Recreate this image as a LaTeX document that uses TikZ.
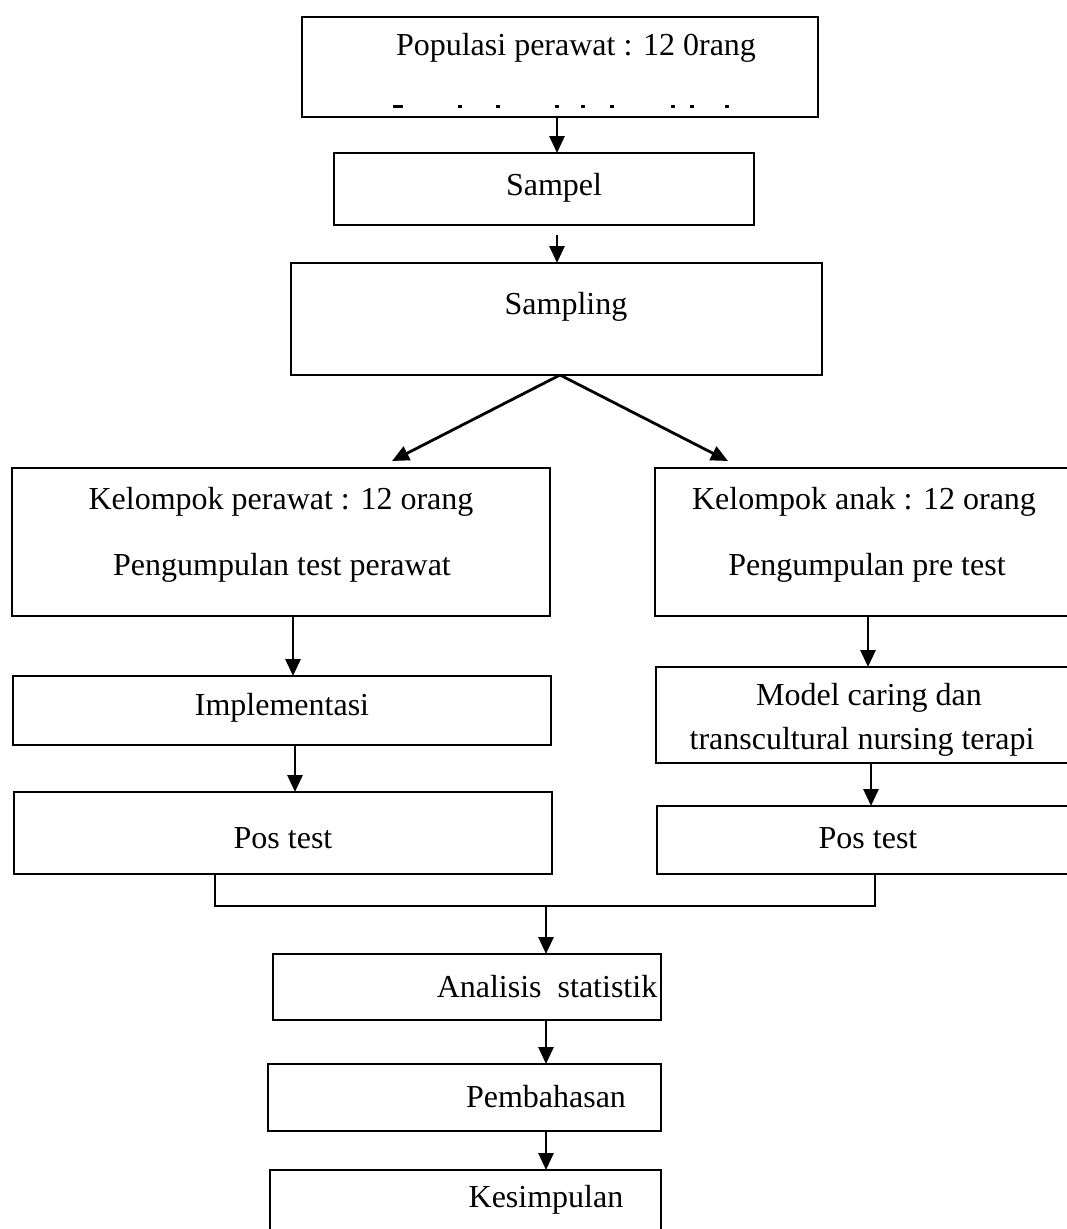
\documentclass[tikz,border=0pt]{standalone}
\usepackage{fontspec}
\setmainfont{Liberation Serif}
\usetikzlibrary{arrows.meta}
\begin{document}
\begin{tikzpicture}[x=1pt,y=-1pt,
  frame/.style={draw, line width=2.8pt, inner sep=0pt, outer sep=0pt, anchor=north west},
  txt/.style={font=\fontsize{32}{38}\selectfont, inner sep=0pt},
  flow/.style={line width=2.8pt, -{Triangle[length=17pt,width=15pt]}},
  mergeline/.style={line width=2.8pt}]
\useasboundingbox (0,0) rectangle (1067,1229);

% --- boxes ---
\node[frame, minimum width=516pt, minimum height=100pt] (pop) at (302,17) {};
\node[txt] (popT) at (576,48) {Populasi perawat : 12 0rang};
\fill (393,105) rectangle (403,108);
\foreach \d in {460,498,557,583,612,673,692,727}
  \fill (\d-2,105) rectangle (\d+2,108);

\node[frame, minimum width=420pt, minimum height=72pt] (sampel) at (334,153) {};
\node[txt] (sampelT) at (554,188) {Sampel};

\node[frame, minimum width=531pt, minimum height=112pt] (sampling) at (291,263) {};
\node[txt] (samplingT) at (566,307) {Sampling};

\node[frame, minimum width=538pt, minimum height=148pt] (kp) at (12,468) {};
\node[txt] (kpA) at (281,502) {Kelompok perawat : 12 orang};
\node[txt] (kpB) at (282,568) {Pengumpulan test perawat};

\node[frame, minimum width=460pt, minimum height=148pt] (ka) at (655,468) {};
\node[txt] (kaA) at (864,502) {Kelompok anak : 12 orang};
\node[txt] (kaB) at (867,568) {Pengumpulan pre test};

\node[frame, minimum width=538pt, minimum height=69pt] (impl) at (13,676) {};
\node[txt] (implT) at (282,708) {Implementasi};

\node[frame, minimum width=460pt, minimum height=96pt] (model) at (656,667) {};
\node[txt] (modelA) at (869,698) {Model caring dan};
\node[txt] (modelB) at (862,742) {transcultural nursing terapi};

\node[frame, minimum width=538pt, minimum height=82pt] (posL) at (14,792) {};
\node[txt] (posLT) at (283,838) {Pos test};

\node[frame, minimum width=460pt, minimum height=68pt] (posR) at (657,806) {};
\node[txt] (posRT) at (868,838) {Pos test};

\node[frame, minimum width=388pt, minimum height=66pt] (ana) at (273,954) {};
\node[txt] (anaT) at (547,987) {Analisis\ \ statistik};

\node[frame, minimum width=393pt, minimum height=67pt] (bah) at (268,1064) {};
\node[txt] (bahT) at (546,1097) {Pembahasan};

% the last box runs past the lower page edge
\node[frame, minimum width=391pt, minimum height=72pt] (kes) at (270,1170) {};
\node[txt] (kesT) at (546,1200) {Kesimpulan};

% --- connector columns ---
\coordinate (c1) at (557,0);
\coordinate (cs) at (560,0);
\coordinate (cl1) at (293,0);
\coordinate (cl2) at (295,0);
\coordinate (cr1) at (868,0);
\coordinate (cr2) at (871,0);
\coordinate (mL) at (215,0);
\coordinate (mR) at (875,0);
\coordinate (cm) at (546,0);
\coordinate (ltip) at (392,461);
\coordinate (rtip) at (728,461);
\coordinate (mid) at (546,906);

% --- connectors ---
\draw[flow] (pop.south -| c1) -- (sampel.north -| c1);
\draw[flow, shorten <=10pt] (sampel.south -| c1) -- (sampling.north -| c1);
\draw[flow] (sampling.south -| cs) -- (ltip);
\draw[flow] (sampling.south -| cs) -- (rtip);
\draw[flow] (kp.south -| cl1) -- (impl.north -| cl1);
\draw[flow] (impl.south -| cl2) -- (posL.north -| cl2);
\draw[flow] (ka.south -| cr1) -- (model.north -| cr1);
\draw[flow] (model.south -| cr2) -- (posR.north -| cr2);
\draw[mergeline] (posL.south -| mL) |- (mid) -| (posR.south -| mR);
\draw[flow] (mid) -- (ana.north -| cm);
\draw[flow] (ana.south -| cm) -- (bah.north -| cm);
\draw[flow] (bah.south -| cm) -- (kes.north -| cm);
\end{tikzpicture}
\end{document}
